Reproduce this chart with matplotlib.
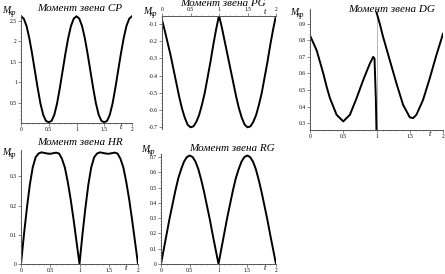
import matplotlib
matplotlib.use("Agg")
import matplotlib.pyplot as plt
from matplotlib.ticker import AutoMinorLocator

## the data, t step 0.05
t = [i * 0.05 for i in range(41)]

cp = [2.62, 2.56, 2.38, 2.08, 1.70, 1.28, 0.86, 0.48, 0.20, 0.05, 0.02,
      0.05, 0.20, 0.48, 0.86, 1.28, 1.70, 2.08, 2.38, 2.56, 2.62,
      2.56, 2.38, 2.08, 1.70, 1.28, 0.86, 0.48, 0.20, 0.05, 0.02,
      0.05, 0.20, 0.48, 0.86, 1.28, 1.70, 2.08, 2.38, 2.56, 2.62]

pg = [-0.075, -0.14, -0.21, -0.28, -0.36, -0.44, -0.52, -0.59, -0.645, -0.685, -0.70,
      -0.695, -0.67, -0.63, -0.57, -0.50, -0.41, -0.32, -0.22, -0.13, -0.05,
      -0.12, -0.20, -0.28, -0.36, -0.44, -0.52, -0.59, -0.645, -0.685, -0.70,
      -0.695, -0.67, -0.63, -0.57, -0.50, -0.41, -0.32, -0.22, -0.13, -0.05]

hr = [0.0, 0.10, 0.19, 0.27, 0.33, 0.365, 0.378, 0.382, 0.380, 0.378, 0.377,
      0.379, 0.381, 0.378, 0.36, 0.33, 0.28, 0.22, 0.15, 0.075, 0.0,
      0.10, 0.19, 0.27, 0.33, 0.365, 0.378, 0.382, 0.380, 0.378, 0.377,
      0.379, 0.381, 0.378, 0.36, 0.33, 0.28, 0.22, 0.15, 0.075, 0.0]

rg = [0.0, 0.10, 0.20, 0.30, 0.39, 0.48, 0.56, 0.62, 0.67, 0.70, 0.71,
      0.70, 0.67, 0.62, 0.55, 0.47, 0.38, 0.29, 0.19, 0.095, 0.0,
      0.10, 0.20, 0.30, 0.39, 0.48, 0.56, 0.62, 0.67, 0.70, 0.71,
      0.70, 0.67, 0.62, 0.55, 0.47, 0.38, 0.29, 0.19, 0.095, 0.0]

# DG has a jump at t = 1
dg_t1 = [0.0, 0.1, 0.2, 0.25, 0.3, 0.4, 0.5, 0.6, 0.7, 0.8, 0.9, 0.95, 0.97, 0.99, 1.0]
dg_v1 = [0.83, 0.74, 0.60, 0.52, 0.45, 0.35, 0.31, 0.35, 0.45, 0.56, 0.66, 0.70, 0.69, 0.45, 0.25]
dg_t2 = [1.0, 1.05, 1.1, 1.2, 1.3, 1.4, 1.5, 1.55, 1.6, 1.7, 1.8, 1.9, 2.0]
dg_v2 = [0.97, 0.90, 0.82, 0.68, 0.54, 0.41, 0.335, 0.33, 0.35, 0.44, 0.57, 0.71, 0.84]

xticks = [0, 0.5, 1, 1.5, 2]
xlabels = ['0', '0.5', '1', '1.5', '2']

W, H = 445, 274
fig = plt.figure(figsize=(W / 100, H / 100), dpi=100)

serif = 'Liberation Serif'


def make_ax(x0, x1, y0, y1):
    return fig.add_axes([x0 / W, 1 - y1 / H, (x1 - x0) / W, (y1 - y0) / H])


def style(ax, ylim, yticks, ylabels, top=False):
    ax.set_xlim(0, 2)
    ax.set_ylim(*ylim)
    ax.patch.set_alpha(0)
    for s in ['right', 'top', 'bottom']:
        ax.spines[s].set_visible(False)
    xs = 'top' if top else 'bottom'
    ax.spines[xs].set_visible(True)
    for s in ['left', xs]:
        ax.spines[s].set_linewidth(0.7)
        ax.spines[s].set_color('#555555')
    ax.xaxis.set_ticks_position(xs)
    ax.set_xticks(xticks)
    ax.set_xticklabels(xlabels)
    ax.set_yticks(yticks)
    ax.set_yticklabels(ylabels)
    ax.xaxis.set_minor_locator(AutoMinorLocator(5))
    ax.yaxis.set_minor_locator(AutoMinorLocator(5))
    ax.tick_params(which='major', length=2, width=0.5, pad=1,
                   labelsize=4, color='#555555')
    ax.tick_params(which='minor', length=1, width=0.4, color='#777777')
    for lab in ax.get_xticklabels() + ax.get_yticklabels():
        lab.set_family(serif)
    # t label near the end of the axis
    ty = 1.0 if top else 0.0
    va = 'bottom' if top else 'top'
    ax.text(1.8, ty, 't', transform=ax.get_xaxis_transform(), fontsize=6,
            style='italic', family=serif, ha='center', va=va)


def ylab(x, y):
    fig.text(x / W, 1 - y / H, 'M', fontsize=7, style='italic', family=serif,
             ha='left', va='baseline')
    fig.text((x + 7) / W, 1 - (y + 2) / H, 'кр', fontsize=5.5, style='italic',
             family=serif, ha='left', va='baseline')


def title(x, y, s):
    fig.text(x / W, 1 - y / H, s, fontsize=8, style='italic', family=serif,
             ha='center', va='baseline')


lw = 1.4

## CP
ax1 = make_ax(21, 132, 15, 123)
ax1.plot(t, cp, color='black', lw=lw)
style(ax1, (0, 2.65), [0.5, 1, 1.5, 2, 2.5], ['0.5', '1', '1.5', '2', '2.5'])
title(80, 11, 'Момент звена CP')
ylab(2, 13)

## PG
ax2 = make_ax(162, 276, 16, 129)
ax2.plot(t, pg, color='black', lw=lw)
style(ax2, (-0.71, -0.053), [-0.1, -0.2, -0.3, -0.4, -0.5, -0.6, -0.7],
      ['-0.1', '-0.2', '-0.3', '-0.4', '-0.5', '-0.6', '-0.7'], top=True)
title(223, 6, 'Момент звена PG')
ylab(143, 14)

## DG
ax3 = make_ax(310, 443, 9, 130)
ax3.axvline(1, color='#aaaaaa', lw=0.6)
ax3.plot(dg_t1, dg_v1, color='black', lw=lw)
ax3.plot(dg_t2, dg_v2, color='black', lw=lw)
style(ax3, (0.258, 0.99), [0.3, 0.4, 0.5, 0.6, 0.7, 0.8, 0.9],
      ['0.3', '0.4', '0.5', '0.6', '0.7', '0.8', '0.9'])
title(392, 12, 'Момент звена DG')
ylab(290, 15)

## HR
ax4 = make_ax(21, 138, 150, 264)
ax4.plot(t, hr, color='black', lw=lw)
style(ax4, (0, 0.39), [0, 0.1, 0.2, 0.3], ['0', '0.1', '0.2', '0.3'])
title(80, 145, 'Момент звена HR')
ylab(2, 155)

## RG
ax5 = make_ax(161, 276, 154, 264)
ax5.plot(t, rg, color='black', lw=lw)
style(ax5, (0, 0.72), [0, 0.1, 0.2, 0.3, 0.4, 0.5, 0.6, 0.7],
      ['0', '0.1', '0.2', '0.3', '0.4', '0.5', '0.6', '0.7'])
title(232, 151, 'Момент звена RG')
ylab(141, 152)

plt.savefig('out.png', dpi=100)
